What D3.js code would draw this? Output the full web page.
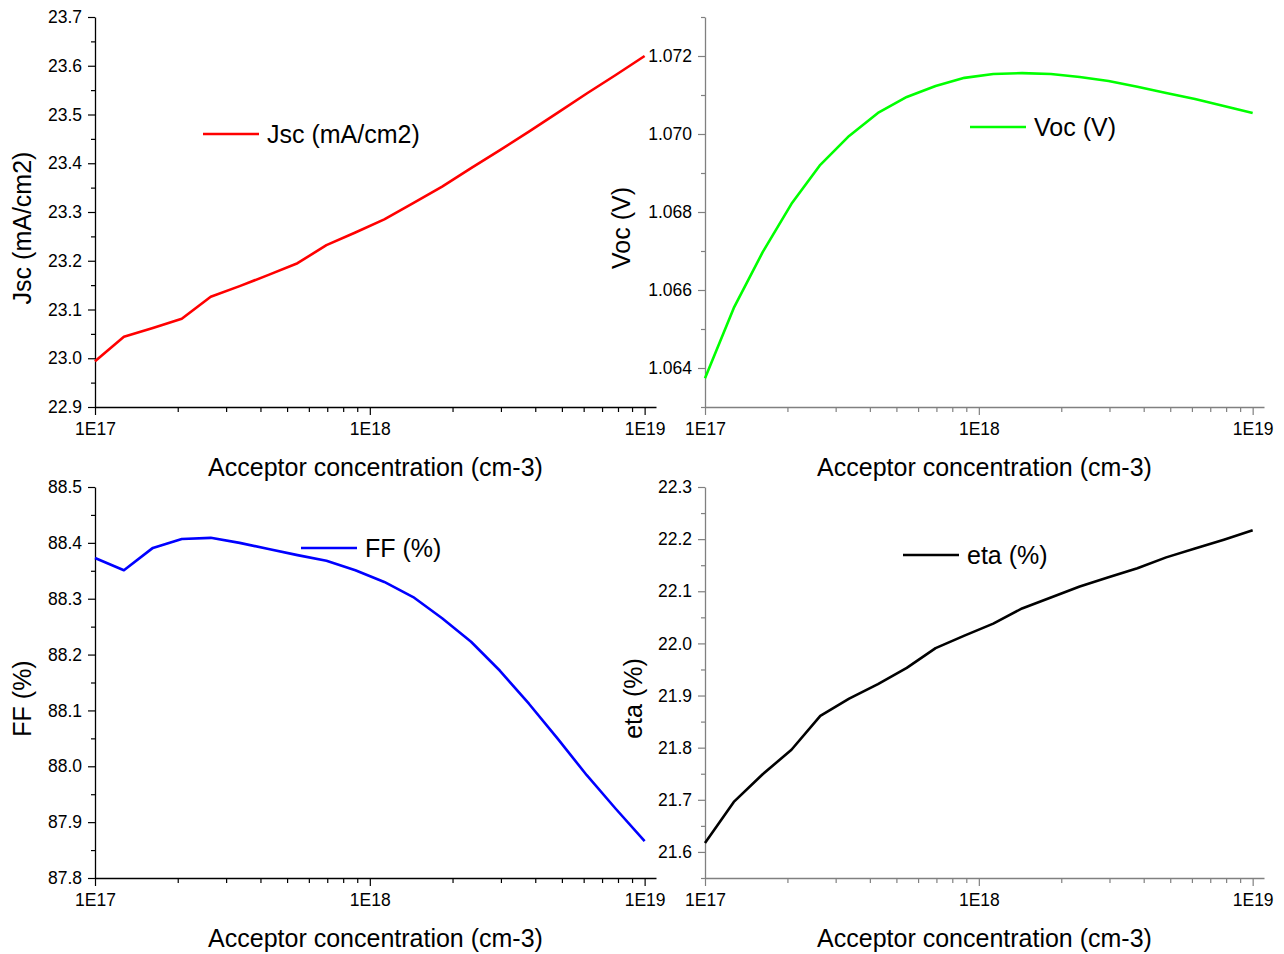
<!DOCTYPE html>
<html><head><meta charset="utf-8">
<script src="https://cdn.jsdelivr.net/npm/d3@7"></script>
<style>
body{margin:0;background:#fff;}
svg{display:block;font-family:"Liberation Sans",Arial,sans-serif;}
</style></head>
<body><svg id="c" width="1284" height="954"></svg>
<script>
// Acceptor concentration (cm-3)
const conc = [1e17, 1.274e17, 1.624e17, 2.069e17, 2.637e17, 3.360e17, 4.281e17, 5.456e17, 6.952e17, 8.859e17,
  1.129e18, 1.438e18, 1.833e18, 2.336e18, 2.976e18, 3.793e18, 4.833e18, 6.158e18, 7.848e18, 1e19];
const jsc = [22.994, 23.044, 23.062, 23.081, 23.126, 23.148, 23.171, 23.195, 23.232, 23.258,
  23.285, 23.318, 23.352, 23.390, 23.427, 23.465, 23.504, 23.543, 23.581, 23.620];
const voc = [1.06374, 1.06554, 1.06697, 1.06821, 1.06921, 1.06995, 1.07054, 1.07095, 1.07123, 1.07144,
  1.07154, 1.07156, 1.07154, 1.07146, 1.07136, 1.07121, 1.07105, 1.07090, 1.07072, 1.07054];
const ff = [88.373, 88.351, 88.391, 88.407, 88.409, 88.400, 88.389, 88.378, 88.368, 88.351,
  88.330, 88.303, 88.265, 88.223, 88.171, 88.112, 88.049, 87.984, 87.924, 87.866];
const eta = [21.617, 21.696, 21.749, 21.796, 21.861, 21.894, 21.922, 21.953, 21.991, 22.015,
  22.038, 22.067, 22.088, 22.109, 22.127, 22.144, 22.165, 22.182, 22.199, 22.217];

const xMajor = [1e17, 1e18, 1e19];
const xMajorLabels = ["1E17", "1E18", "1E19"];
const xMinor = [2e17,3e17,4e17,5e17,6e17,7e17,8e17,9e17,2e18,3e18,4e18,5e18,6e18,7e18,8e18,9e18];
const xDomain = [1e17, 1.1e19];

const jscTicks = [22.9, 23.0, 23.1, 23.2, 23.3, 23.4, 23.5, 23.6, 23.7];
const jscMinor = [22.95, 23.05, 23.15, 23.25, 23.35, 23.45, 23.55, 23.65];
const vocTicks = [1.064, 1.066, 1.068, 1.070, 1.072];
const vocMinor = [1.063, 1.065, 1.067, 1.069, 1.071, 1.073];
const ffTicks = [87.8, 87.9, 88.0, 88.1, 88.2, 88.3, 88.4, 88.5];
const ffMinor = [87.85, 87.95, 88.05, 88.15, 88.25, 88.35, 88.45];
const etaTicks = [21.6, 21.7, 21.8, 21.9, 22.0, 22.1, 22.2, 22.3];
const etaMinor = [21.55, 21.65, 21.75, 21.85, 21.95, 22.05, 22.15, 22.25];

const xTitle = "Acceptor concentration (cm-3)";

const panels = [
  {vals: jsc, color: "#ff0000", yDom: [22.9, 23.7], ticks: jscTicks, minor: jscMinor, fmt: ".1f",
   title: "Jsc (mA/cm2)", legend: "Jsc (mA/cm2)", left: 95, right: 656, top: 17, bottom: 407,
   axisColor: "#000", titleX: 22, legX: 203, legY: 134},
  {vals: voc, color: "#00ff00", yDom: [1.063, 1.073], ticks: vocTicks, minor: vocMinor, fmt: ".3f",
   title: "Voc (V)", legend: "Voc (V)", left: 705, right: 1264, top: 17, bottom: 407,
   axisColor: "#808080", titleX: 621, legX: 970, legY: 127},
  {vals: ff, color: "#0000ff", yDom: [87.8, 88.5], ticks: ffTicks, minor: ffMinor, fmt: ".1f",
   title: "FF (%)", legend: "FF (%)", left: 95, right: 656, top: 487, bottom: 878,
   axisColor: "#000", titleX: 22, legX: 301, legY: 548},
  {vals: eta, color: "#000000", yDom: [21.55, 22.3], ticks: etaTicks, minor: etaMinor, fmt: ".1f",
   title: "eta (%)", legend: "eta (%)", left: 705, right: 1264, top: 487, bottom: 878,
   axisColor: "#808080", titleX: 633, legX: 903, legY: 555}
];

const svg = d3.select("#c");

panels.forEach(p => {
  const x = d3.scaleLog().domain(xDomain).range([p.left, p.right]);
  const y = d3.scaleLinear().domain(p.yDom).range([p.bottom, p.top]);
  const g = svg.append("g");

  // x axis
  const xa = g.append("g").attr("transform", `translate(0,${p.bottom})`)
    .call(d3.axisBottom(x).tickValues(xMajor).tickFormat((d,i) => xMajorLabels[i]).tickSize(8).tickSizeOuter(0).tickPadding(8));
  xa.select(".domain").attr("stroke", p.axisColor).attr("stroke-width", 1.3);
  xa.selectAll(".tick line").attr("stroke", p.axisColor).attr("stroke-width", 1.2);
  xa.selectAll(".tick text").attr("font-size", "17.5px").attr("fill", "#000")
    .attr("font-family", "Liberation Sans, Arial, sans-serif");
  const xm = g.append("g").attr("transform", `translate(0,${p.bottom})`)
    .call(d3.axisBottom(x).tickValues(xMinor).tickFormat("").tickSize(5).tickSizeOuter(0));
  xm.select(".domain").remove();
  xm.selectAll(".tick line").attr("stroke", p.axisColor).attr("stroke-width", 1.2);

  // y axis
  const ya = g.append("g").attr("transform", `translate(${p.left},0)`)
    .call(d3.axisLeft(y).tickValues(p.ticks).tickFormat(d3.format(p.fmt)).tickSize(7).tickSizeOuter(0).tickPadding(6));
  ya.select(".domain").attr("stroke", p.axisColor).attr("stroke-width", 1.3);
  ya.selectAll(".tick line").attr("stroke", p.axisColor).attr("stroke-width", 1.2);
  ya.selectAll(".tick text").attr("font-size", "17.5px").attr("fill", "#000")
    .attr("font-family", "Liberation Sans, Arial, sans-serif");
  const ym = g.append("g").attr("transform", `translate(${p.left},0)`)
    .call(d3.axisLeft(y).tickValues(p.minor).tickFormat("").tickSize(4).tickSizeOuter(0));
  ym.select(".domain").remove();
  ym.selectAll(".tick line").attr("stroke", p.axisColor).attr("stroke-width", 1.2);

  // line
  const line = d3.line().x((d,i) => x(conc[i])).y(d => y(d));
  g.append("path").datum(p.vals).attr("d", line)
    .attr("fill", "none").attr("stroke", p.color).attr("stroke-width", 2.6)
    .attr("stroke-linejoin", "round");

  // x title
  g.append("text").attr("x", (p.left + p.right) / 2).attr("y", p.bottom + 69)
    .attr("text-anchor", "middle").attr("font-size", "25px").attr("fill", "#000").text(xTitle);

  // y title
  g.append("text").attr("transform", `translate(${p.titleX},${(p.top + p.bottom) / 2 + 16}) rotate(-90)`)
    .attr("text-anchor", "middle").attr("dy", "0.35em").attr("font-size", "25px").attr("fill", "#000").text(p.title);

  // legend
  g.append("line").attr("x1", p.legX).attr("x2", p.legX + 56).attr("y1", p.legY).attr("y2", p.legY)
    .attr("stroke", p.color).attr("stroke-width", 2.6);
  g.append("text").attr("x", p.legX + 64).attr("y", p.legY).attr("dy", "0.35em")
    .attr("font-size", "25px").attr("fill", "#000").text(p.legend);
});
</script>
</body></html>
